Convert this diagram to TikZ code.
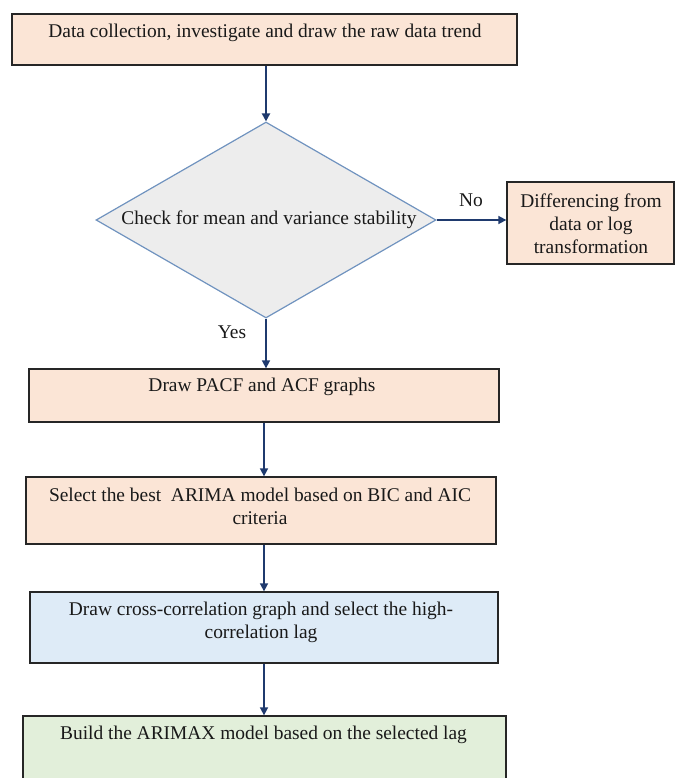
\documentclass[tikz,border=0pt]{standalone}
\usepackage{fontspec}
\setmainfont{Liberation Serif}
\usetikzlibrary{arrows.meta,shapes.geometric}
\definecolor{boxorange}{HTML}{FBE5D6}
\definecolor{boxblue}{HTML}{DEEBF7}
\definecolor{boxgreen}{HTML}{E2EFDA}
\definecolor{diagray}{HTML}{EDEDED}
\definecolor{diaedge}{HTML}{7093BF}
\definecolor{arrnavy}{HTML}{1F3A6E}
\begin{document}
\begin{tikzpicture}[x=1bp,y=-1bp,
  every node/.style={font=\fontsize{19.5pt}{23pt}\selectfont},
  box/.style={draw=black!85, line width=1.3bp, inner sep=0pt},
  lbl/.style={inner sep=0pt, align=center, text=black!90},
  conn/.style={draw=arrnavy, line width=1.6bp, -{Triangle[length=8bp,width=8bp]}}]
\useasboundingbox (0,0) rectangle (678,778);
% boxes
\node[box, fill=boxorange, minimum width=505bp, minimum height=51bp] (b1) at (264.5,39.5) {};
\node[lbl] (t1) at (265,33) {Data collection, investigate and draw the raw data trend};
\node[diamond, draw=diaedge, fill=diagray, line width=1.2bp, minimum width=340bp, minimum height=196bp, inner sep=0pt] (d) at (266,220) {};
\node[lbl] (t2) at (269,220) {Check for mean and variance stability};
\node[box, fill=boxorange, minimum width=167bp, minimum height=82bp] (r) at (590.5,223) {};
\node[lbl] (t3) at (591,224) {Differencing from\\data or log\\transformation};
\node[box, fill=boxorange, minimum width=470bp, minimum height=53bp] (b2) at (264,395.5) {};
\node[lbl] (t4) at (262,387) {Draw PACF and ACF graphs};
\node[box, fill=boxorange, minimum width=470bp, minimum height=67bp] (b3) at (261,510.5) {};
\node[lbl] (t5) at (260,506) {Select the best\ \ ARIMA model based on BIC and AIC\\criteria};
\node[box, fill=boxblue, minimum width=468bp, minimum height=71bp] (b4) at (264,627.5) {};
\node[lbl] (t6) at (261,622.5) {Draw cross-correlation graph and select the high-\\correlation lag};
\node[box, fill=boxgreen, minimum width=483bp, minimum height=84bp] (b5) at (264.5,758) {};
\node[lbl] (t7) at (263.5,735) {Build the ARIMAX model based on the selected lag};
% labels
\node[lbl] (no) at (471,200) {No};
\node[lbl] (yes) at (232,332) {Yes};
% connectors
\draw[conn, line width=2.6bp] (d.north |- b1.south) -- (d.north);
\draw[conn] (d.east) -- (d.east -| r.west);
\draw[conn] (d.south) -- (d.south |- b2.north);
\draw[conn] (b2.south) -- (b2.south |- b3.north);
\draw[conn] (b2.south |- b3.south) -- (b2.south |- b4.north);
\draw[conn] (b4.south) -- (b4.south |- b5.north);
\end{tikzpicture}
\end{document}
